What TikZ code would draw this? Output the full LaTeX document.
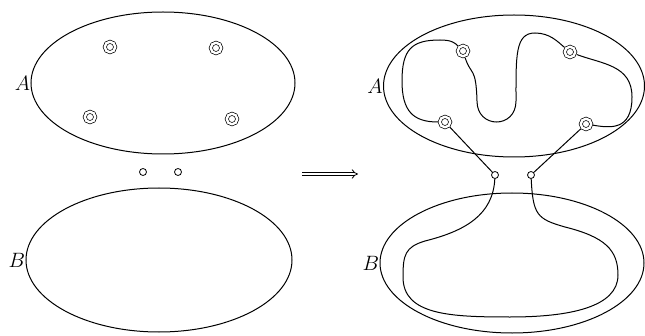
\documentclass[tikz,border=0pt]{standalone}
\usepackage{tikz}
\usetikzlibrary{positioning,arrows.meta,shapes.geometric}

\begin{document}
\begin{tikzpicture}[x=1pt, y=1pt, line width=1pt,
    blob/.style={ellipse, draw, inner sep=0pt, outer sep=0pt},
    ring/.style={circle, draw, double, double distance=2.4pt, line width=0.7pt,
                 minimum size=10.5pt, inner sep=0pt, outer sep=1.9pt},
    port/.style={circle, draw, minimum size=7pt, inner sep=0pt, line width=0.8pt},
    lbl/.style={font=\fontsize{20}{24}\selectfont, inner sep=0.5pt},
  ]
    \useasboundingbox (0,0) rectangle (645,335);
    % left: the two separate sets
    \node[blob, minimum width=264pt, minimum height=142pt] (A) at (163,252) {};
    \node[lbl, left=0pt of A.west] {$A$};
    \node[ring] (a1) at (110,288) {};
    \node[ring] (a2) at (216,287) {};
    \node[ring] (a3) at (90,218) {};
    \node[ring] (a4) at (232,216) {};
    \node[port] (p1) at (143,163) {};
    \node[port] (p2) at (178,163) {};
    \node[blob, minimum width=266pt, minimum height=144pt] (B) at (159,75) {};
    \node[lbl, left=0pt of B.west] {$B$};

    \coordinate (go) at (302,161);
    \coordinate (stop) at (358,161);
    \draw[double, double distance=2.4pt, line width=0.8pt, -{Implies[length=6pt]}] (go) -- (stop);

    % right: after joining
    \node[blob, minimum width=261pt, minimum height=142pt] (A2) at (514,249) {};
    \node[lbl, left=0pt of A2.west] {$A$};
    \node[ring] (r1) at (463,284) {};
    \node[ring] (r2) at (570,283) {};
    \node[ring] (r3) at (445,213) {};
    \node[ring] (r4) at (586,211) {};
    \node[port] (d1) at (495,160) {};
    \node[port] (d2) at (531,160) {};
    \node[blob, minimum width=264pt, minimum height=140pt] (B2) at (512,72) {};
    \node[lbl, left=0pt of B2.west] {$B$};

    % the strand inside A
    \draw (r3) .. controls +(-32,0) and +(0,-30) .. (402,254)
               .. controls +(0,32) and +(-28,0) .. (440,295)
               .. controls +(12,0) and +(-8,8) .. (r1);
    \draw (r1) .. controls +(8,-25) and +(-1,35) .. (477,234)
               .. controls +(0,-28) and +(0,-28) .. (516,234)
               .. controls +(0,45) and +(-20,0) .. (535,302)
               .. controls +(15,0) and +(-12,10) .. (r2);
    \draw (r2) .. controls +(32,-12) and +(0,32) .. (632,238)
               .. controls +(0,-34) and +(24,-4) .. (r4);
    \draw (r3) -- (d1);
    \draw (r4) -- (d2);
    % the strand inside B
    \draw (d1) .. controls +(-2,-40) and +(40,10) .. (425,94)
               .. controls +(-20,-6) and +(0,22) .. (403,58)
               .. controls +(0,-38) and +(-60,0) .. (510,18)
               .. controls +(60,0) and +(0,-32) .. (618,60)
               .. controls +(0,25) and +(40,-10) .. (565,108)
               .. controls +(-28,8) and +(2,-40) .. (d2);
\end{tikzpicture}
\end{document}
